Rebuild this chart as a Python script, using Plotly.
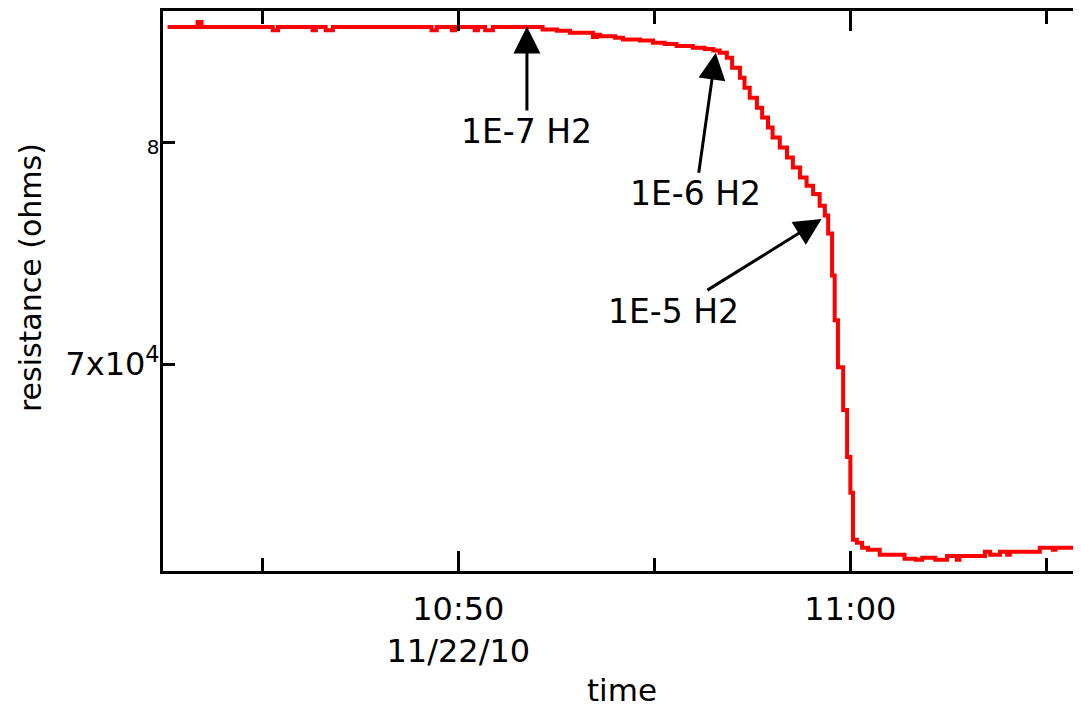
import math
import plotly.graph_objects as go

DATE = "2010-11-22 "

# time stamps (hh:mm:ss) and resistance (ohms)
times = [
    "10:42:35", "10:43:21", "10:43:27", "10:45:16", "10:45:24", "10:46:17", "10:46:22",
    "10:46:37", "10:46:48", "10:49:19", "10:49:27", "10:49:50", "10:49:55", "10:50:25",
    "10:50:30", "10:50:41", "10:50:53", "10:52:09", "10:52:31", "10:52:51", "10:53:26",
    "10:53:32", "10:53:37", "10:54:00", "10:54:12", "10:54:38", "10:54:58", "10:55:16",
    "10:55:34", "10:55:59", "10:56:17", "10:56:30", "10:56:40", "10:56:51", "10:56:59",
    "10:57:11", "10:57:18", "10:57:26", "10:57:37", "10:57:45", "10:57:54", "10:58:01",
    "10:58:12", "10:58:23", "10:58:32", "10:58:43", "10:58:53", "10:59:03", "10:59:13",
    "10:59:21", "10:59:26", "10:59:32", "10:59:36", "10:59:41", "10:59:49", "10:59:55",
    "11:00:00", "11:00:04", "11:00:10", "11:00:18", "11:00:27", "11:00:45", "11:01:23",
    "11:01:40", "11:01:50", "11:02:10", "11:02:28", "11:02:43", "11:02:47", "11:03:26",
    "11:03:34", "11:03:49", "11:04:00", "11:04:04", "11:04:50", "11:05:10", "11:05:14",
    "11:05:51", "11:06:00",
]
resistance = [
    85775, 86030, 85775, 85605, 85775, 85605, 85775,
    85605, 85775, 85605, 85775, 85605, 85775, 85605,
    85775, 85605, 85775, 85641, 85579, 85467, 85250,
    85374, 85297, 85220, 85128, 85077, 84954, 84888,
    84786, 84700, 84633, 84567, 84445, 84192, 83688,
    83186, 82688, 82192, 81700, 81210, 80724, 80241,
    79760, 79282, 78807, 78334, 77944, 77557, 77013,
    76552, 75728, 73841, 71871, 69867, 68084, 66188,
    64772, 62966, 62853, 62664, 62589, 62401, 62250,
    62214, 62289, 62214, 62350, 62214, 62350, 62514,
    62401, 62514, 62401, 62514, 62664, 62589, 62664,
    62853, 62853,
]

# annotations: label and the point (time, resistance) its arrow points at
ann_labels = ["1E-7 H2", "1E-6 H2", "1E-5 H2"]
ann_head_time = ["10:51:45", "10:56:34", "10:59:16"]
ann_head_value = [85790, 84450, 76390]

# axis ticks
x_major = ["10:50:00", "11:00:00"]
x_major_text = ["10:50<br>11/22/10", "11:00"]
x_minor = ["10:45:00", "10:55:00", "11:05:00"]
y_ticks = [70000, 80000]
y_tick_text = ["7x10<sup>4</sup>", "<span style='font-size:20px'>8</span>"]

x_title = "time"
y_title = "resistance (ohms)"

x_range = ["10:42:28", "11:05:53"]
y_range = [61790, 86600]

FONT = "DejaVu Sans"

fig = go.Figure()
fig.add_trace(go.Scatter(
    x=[DATE + t for t in times], y=resistance, mode="lines",
    line=dict(color="#ff0000", width=4, shape="hv"),
    showlegend=False, hoverinfo="skip",
))

# label centre offsets (px) relative to the arrow head
label_offsets = [(0, 105), (-20, 141), (-148, 92)]
for lab, ht, hv, (ax, ay) in zip(ann_labels, ann_head_time, ann_head_value, label_offsets):
    fig.add_annotation(x=DATE + ht, y=math.log10(hv), text=lab, showarrow=True,
                       ax=ax, ay=ay, arrowhead=2, arrowsize=1.8, arrowwidth=3,
                       arrowcolor="black", standoff=0, startstandoff=0,
                       font=dict(family=FONT, size=33, color="black"))

# y axis title (placed slightly above the plot centre, as in the original)
fig.add_annotation(xref="paper", yref="paper", x=0, y=0.523, xshift=-133,
                   xanchor="center", yanchor="middle", textangle=-90,
                   text=y_title, showarrow=False,
                   font=dict(family=FONT, size=30, color="black"))

fig.update_layout(
    width=1073, height=700,
    margin=dict(l=155, r=0, t=2, b=136, pad=0),
    paper_bgcolor="white", plot_bgcolor="white",
    font=dict(family=FONT, color="black"),
    showlegend=False,
)
fig.update_xaxes(
    type="date", range=[DATE + x_range[0], DATE + x_range[1]],
    tickmode="array", tickvals=[DATE + v for v in x_major], ticktext=x_major_text,
    ticks="inside", ticklen=20, tickwidth=3, tickcolor="black",
    minor=dict(tickmode="array", tickvals=[DATE + v for v in x_minor], ticks="inside",
               ticklen=13, tickwidth=3, tickcolor="black", showgrid=False),
    showline=True, linewidth=3, linecolor="black", mirror="ticks",
    showgrid=False, zeroline=False,
    tickfont=dict(family=FONT, size=32, color="black"),
    ticklabelstandoff=8,
    title=dict(text=x_title, font=dict(family=FONT, size=31, color="black"), standoff=16),
)
fig.update_yaxes(
    type="log", range=[math.log10(y_range[0]), math.log10(y_range[1])],
    tickmode="array", tickvals=y_ticks, ticktext=y_tick_text,
    ticks="inside", ticklen=12, tickwidth=3, tickcolor="black",
    showline=True, linewidth=3, linecolor="black", mirror=False,
    showgrid=False, zeroline=False,
    tickfont=dict(family=FONT, size=32, color="black"),
    ticklabelstandoff=-6,
)

fig.write_html("out.html")
